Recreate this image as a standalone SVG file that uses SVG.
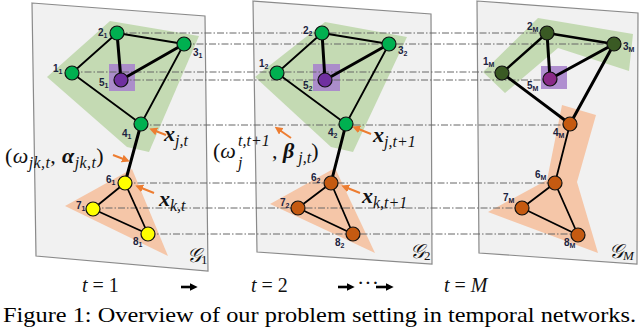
<svg xmlns="http://www.w3.org/2000/svg" width="640" height="328" viewBox="0 0 640 328">
<defs>
<style>
.panel{fill:#f1f1f1;stroke:#8a8a8a;stroke-width:1.2}
.green{fill:#c4dab3}
.purp{fill:#a884cc;opacity:.9}
.orng{fill:#f5c6a8}
.e{stroke:#000;stroke-width:1.8;fill:none;stroke-linecap:round}
.t{stroke-width:3}
.mt{stroke-width:2.4}
.d{stroke:#666;stroke-width:1;stroke-dasharray:7 2 1.5 2;fill:none}
.n{stroke:#111;stroke-width:1.2}
.g{fill:#00b050}.y{fill:#ffff00}.o{fill:#c55a11}.p{fill:#7030a0}.dg{fill:#3a5a24}.pm{fill:#8a2a88}
.lb{font-family:"Liberation Sans",Arial,sans-serif;font-weight:bold;font-size:10px;fill:#1c2340}
.s{font-size:7px}
.a{stroke:#ed7d31;stroke-width:2;fill:none;marker-end:url(#ah)}
.m{font-family:"Liberation Serif","Times New Roman",serif;font-size:22px;fill:#111}
.bi{font-weight:bold;font-style:italic}
.i{font-style:italic}
.sb{font-size:16px;font-style:italic}
.tl{font-size:20px}
.bk{stroke:#000;stroke-width:2.6;fill:none;marker-end:url(#bh)}
</style>
<marker id="ah" viewBox="0 0 10 10" refX="5" refY="5" markerWidth="4" markerHeight="4" orient="auto" markerUnits="strokeWidth">
<path d="M0,0 L10,5 L0,10 z" fill="#ed7d31"/>
</marker>
<marker id="bh" viewBox="0 0 10 10" refX="4" refY="5" markerWidth="3" markerHeight="3" orient="auto" markerUnits="strokeWidth">
<path d="M0,0 L10,5 L0,10 z" fill="#000"/>
</marker>
</defs>

<g id="panels">
<polygon class="panel" points="32,3 205,16 208,271 36,256"/>
<polygon class="panel" points="253,1 431,14 432,264 257,252"/>
<polygon class="panel" points="477,1 638,13 637,264 479,253"/>
</g>

<g id="regions">
<polygon class="green" points="47,77 110,21 199,36 149,152 127,147"/>
<rect class="purp" x="109" y="64" width="26" height="27"/>
<polygon class="orng" points="65,206 132,169 168,256"/>
<polygon class="green" points="255,77 325,22 407,37 353,152 331,147"/>
<rect class="purp" x="313" y="64" width="27" height="27"/>
<polygon class="orng" points="270,204 335,168 375,253"/>
<polygon class="green" points="483,72 538,18 633,34 629,71 558,48 505,93"/>
<rect class="purp" x="541" y="66" width="26" height="23"/>
<polygon class="orng" points="562,105 596,115 577,182 598,253 488,212 547,180"/>
</g>

<g id="connectors">
<line class="d" x1="117" y1="33" x2="547" y2="33"/>
<line class="d" x1="184" y1="44" x2="614" y2="44"/>
<line class="d" x1="72" y1="72" x2="502" y2="72"/>
<line class="d" x1="121" y1="80" x2="550" y2="80"/>
<line class="d" x1="141" y1="125" x2="570" y2="125"/>
<line class="d" x1="125" y1="183" x2="555" y2="183"/>
<line class="d" x1="93" y1="208" x2="522" y2="208"/>
<line class="d" x1="148" y1="234" x2="578" y2="234"/>
<line class="e" x1="72" y1="73" x2="117" y2="33"/>
<line class="e" x1="117" y1="33" x2="184" y2="44"/>
<line class="e" x1="72" y1="73" x2="141" y2="124"/>
<line class="e" x1="184" y1="44" x2="141" y2="124"/>
<line class="e t" x1="117" y1="33" x2="121" y2="80"/>
<line class="e t" x1="184" y1="44" x2="121" y2="80"/>
<line class="e t" x1="141" y1="124" x2="125" y2="183"/>
<line class="e" x1="125" y1="183" x2="93" y2="209"/>
<line class="e" x1="93" y1="209" x2="148" y2="234"/>
<line class="e" x1="125" y1="183" x2="148" y2="234"/>
<line class="e" x1="277" y1="73" x2="322" y2="33"/>
<line class="e" x1="322" y1="33" x2="389" y2="44"/>
<line class="e" x1="277" y1="73" x2="346" y2="124"/>
<line class="e" x1="389" y1="44" x2="346" y2="124"/>
<line class="e t" x1="322" y1="33" x2="325" y2="80"/>
<line class="e t" x1="389" y1="44" x2="325" y2="80"/>
<line class="e t" x1="346" y1="124" x2="331" y2="183"/>
<line class="e" x1="331" y1="183" x2="298" y2="208"/>
<line class="e" x1="298" y1="208" x2="353" y2="234"/>
<line class="e" x1="331" y1="183" x2="353" y2="234"/>
<line class="e mt" x1="502" y1="73" x2="547" y2="33"/>
<line class="e mt" x1="547" y1="33" x2="614" y2="44"/>
<line class="e t" x1="502" y1="73" x2="570" y2="124"/>
<line class="e t" x1="614" y1="44" x2="570" y2="124"/>
<line class="e t" x1="547" y1="33" x2="550" y2="79"/>
<line class="e t" x1="614" y1="44" x2="550" y2="79"/>
<line class="e" x1="570" y1="124" x2="555" y2="183"/>
<line class="e" x1="555" y1="183" x2="522" y2="208"/>
<line class="e" x1="522" y1="208" x2="578" y2="235"/>
<line class="e" x1="555" y1="183" x2="578" y2="235"/>
</g>

<g id="nodes-t1">
<g id="n1_1"><circle class="n g" cx="72" cy="73" r="7"/><text class="lb" x="53" y="72">1<tspan class="s" dy="2">1</tspan></text></g>
<g id="n2_1"><circle class="n g" cx="117" cy="33" r="7"/><text class="lb" x="98" y="36">2<tspan class="s" dy="2">1</tspan></text></g>
<g id="n3_1"><circle class="n g" cx="184" cy="44" r="7"/><text class="lb" x="193" y="56">3<tspan class="s" dy="2">1</tspan></text></g>
<g id="n4_1"><circle class="n g" cx="141" cy="124" r="7"/><text class="lb" x="122" y="137">4<tspan class="s" dy="2">1</tspan></text></g>
<g id="n5_1"><circle class="n p" cx="121" cy="80" r="7"/><text class="lb" x="99" y="86">5<tspan class="s" dy="2">1</tspan></text></g>
<g id="n6_1"><circle class="n y" cx="125" cy="183" r="7"/><text class="lb" x="106" y="183">6<tspan class="s" dy="2">1</tspan></text></g>
<g id="n7_1"><circle class="n y" cx="93" cy="209" r="7"/><text class="lb" x="76" y="209">7<tspan class="s" dy="2">1</tspan></text></g>
<g id="n8_1"><circle class="n y" cx="148" cy="234" r="7"/><text class="lb" x="133" y="245">8<tspan class="s" dy="2">1</tspan></text></g>
</g>

<g id="nodes-t2">
<g id="n1_2"><circle class="n g" cx="277" cy="73" r="7"/><text class="lb" x="259" y="67">1<tspan class="s" dy="2">2</tspan></text></g>
<g id="n2_2"><circle class="n g" cx="322" cy="33" r="7"/><text class="lb" x="303" y="34">2<tspan class="s" dy="2">2</tspan></text></g>
<g id="n3_2"><circle class="n g" cx="389" cy="44" r="7"/><text class="lb" x="398" y="54">3<tspan class="s" dy="2">2</tspan></text></g>
<g id="n4_2"><circle class="n g" cx="346" cy="124" r="7"/><text class="lb" x="328" y="136">4<tspan class="s" dy="2">2</tspan></text></g>
<g id="n5_2"><circle class="n p" cx="325" cy="80" r="7"/><text class="lb" x="303" y="89">5<tspan class="s" dy="2">2</tspan></text></g>
<g id="n6_2"><circle class="n o" cx="331" cy="183" r="7"/><text class="lb" x="311" y="181">6<tspan class="s" dy="2">2</tspan></text></g>
<g id="n7_2"><circle class="n o" cx="298" cy="208" r="7"/><text class="lb" x="280" y="206">7<tspan class="s" dy="2">2</tspan></text></g>
<g id="n8_2"><circle class="n o" cx="353" cy="234" r="7"/><text class="lb" x="335" y="246">8<tspan class="s" dy="2">2</tspan></text></g>
</g>

<g id="nodes-tM">
<g id="n1_M"><circle class="n dg" cx="502" cy="73" r="7"/><text class="lb" x="483" y="65">1<tspan class="s" dy="2">M</tspan></text></g>
<g id="n2_M"><circle class="n dg" cx="547" cy="33" r="7"/><text class="lb" x="527" y="30">2<tspan class="s" dy="2">M</tspan></text></g>
<g id="n3_M"><circle class="n dg" cx="614" cy="44" r="7"/><text class="lb" x="623" y="50">3<tspan class="s" dy="2">M</tspan></text></g>
<g id="n4_M"><circle class="n o" cx="570" cy="124" r="7"/><text class="lb" x="553" y="136">4<tspan class="s" dy="2">M</tspan></text></g>
<g id="n5_M"><circle class="n pm" cx="550" cy="79" r="7"/><text class="lb" x="527" y="89">5<tspan class="s" dy="2">M</tspan></text></g>
<g id="n6_M"><circle class="n o" cx="555" cy="183" r="7"/><text class="lb" x="535" y="178">6<tspan class="s" dy="2">M</tspan></text></g>
<g id="n7_M"><circle class="n o" cx="522" cy="208" r="7"/><text class="lb" x="503" y="201">7<tspan class="s" dy="2">M</tspan></text></g>
<g id="n8_M"><circle class="n o" cx="578" cy="235" r="7"/><text class="lb" x="564" y="246">8<tspan class="s" dy="2">M</tspan></text></g>
</g>

<g id="annotations">
<line class="a" x1="166" y1="135" x2="153" y2="130"/>
<text class="m" x="164" y="141"><tspan class="bi">x</tspan><tspan class="sb" dy="5">j,t</tspan></text>
<line class="a" x1="113" y1="155" x2="126" y2="160"/>
<text class="m" x="5" y="163" font-size="23" letter-spacing="0.4">(<tspan class="i">ω</tspan><tspan class="sb" font-size="17" dy="5">jk,t</tspan><tspan dy="-5">, </tspan><tspan class="bi">α</tspan><tspan class="sb" font-size="17" dy="5">jk,t</tspan><tspan dy="-5">)</tspan></text>
<line class="a" x1="154" y1="193" x2="139" y2="187"/>
<text class="m" x="159" y="206"><tspan class="bi">x</tspan><tspan class="sb" dy="5">k,t</tspan></text>

<line class="a" x1="291" y1="138" x2="278" y2="129"/>
<text class="m" x="213" y="158">(<tspan class="i">ω</tspan></text>
<text class="m sb" x="238" y="168">j</text>
<text class="m sb" x="238" y="146">t,t+1</text>
<text class="m" x="272" y="158">, <tspan class="bi">β</tspan><tspan class="sb" dy="5"> j,t</tspan><tspan dy="-5">)</tspan></text>
<line class="a" x1="371" y1="134" x2="356" y2="128"/>
<text class="m" x="373" y="142"><tspan class="bi">x</tspan><tspan class="sb" dy="5">j,t+1</tspan></text>
<line class="a" x1="360" y1="193" x2="345" y2="187"/>
<text class="m" x="362" y="203"><tspan class="bi">x</tspan><tspan class="sb" dy="5">k,t+1</tspan></text>

<text class="m i tl" x="187" y="262">𝒢<tspan font-size="13" font-style="normal" dy="2">1</tspan></text>
<text class="m i tl" x="410" y="258">𝒢<tspan font-size="13" font-style="normal" dy="2">2</tspan></text>
<text class="m i tl" x="609" y="258">𝒢<tspan font-size="13" dy="2">M</tspan></text>
</g>

<g id="timeline">
<text class="m tl" x="82" y="292"><tspan class="i">t</tspan> = 1</text>
<line class="bk" x1="181" y1="287" x2="193" y2="287"/>
<text class="m tl" x="251" y="292"><tspan class="i">t</tspan> = 2</text>
<line class="bk" x1="338" y1="287" x2="350" y2="287"/>
<text class="m" x="357" y="290" font-size="12">···</text>
<line class="bk" x1="376" y1="287" x2="389" y2="287"/>
<text class="m tl" x="444" y="292"><tspan class="i">t</tspan> = <tspan class="i">M</tspan></text>
</g>

<text x="3" y="322" font-family="'Liberation Serif','Times New Roman',serif" font-size="22" fill="#000" textLength="633" lengthAdjust="spacingAndGlyphs">Figure 1: Overview of our problem setting in temporal networks.</text>
</svg>
